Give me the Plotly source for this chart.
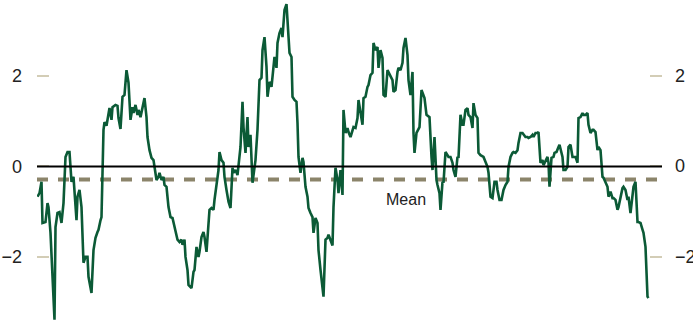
import plotly.graph_objects as go

# Readings of the series (period index, standardised value)
periods = [0, 2, 4, 5, 8, 10, 11, 13, 17, 18, 20, 22, 24, 26, 28, 30, 32, 33, 34, 36,
           39, 40, 42, 44, 46, 48, 50, 51, 54, 56, 58, 60, 61, 63, 64, 66, 67, 69, 71, 72,
           74, 75, 78, 80, 81, 83, 85, 87, 89, 91, 93, 95, 96, 98, 100, 101, 103, 105, 107, 109,
           110, 112, 114, 116, 117, 119, 121, 122, 124, 126, 127, 129, 131, 133, 135, 136, 138, 140, 142, 144,
           145, 147, 148, 150, 151, 154, 156, 157, 159, 161, 162, 164, 166, 167, 169, 171, 172, 174, 176, 177,
           179, 181, 182, 184, 186, 187, 189, 191, 193, 195, 196, 198, 200, 201, 203, 205, 206, 208, 210, 211,
           213, 215, 216, 218, 220, 221, 222, 224, 225, 227, 229, 230, 232, 234, 235, 237, 239, 240, 242, 244,
           245, 247, 249, 250, 252, 254, 255, 257, 259, 260, 261, 263, 265, 266, 268, 270, 271, 273, 275, 276,
           278, 280, 281, 283, 285, 286, 288, 290, 291, 293, 295, 296, 298, 300, 301, 303, 305, 306, 308, 310,
           311, 313, 315, 316, 318, 320, 321, 323, 325, 326, 328, 330, 331, 333, 335, 336, 338, 340, 341, 343,
           345, 346, 348, 350, 351, 353, 355, 356, 358, 360, 361, 363, 365, 366, 368, 370, 371, 373, 375, 376,
           377, 379, 381, 382, 384, 386, 387, 389, 391, 392, 394, 395, 397, 399, 400, 402, 403, 405, 406, 408,
           410, 411, 413, 415, 416, 418, 420, 421, 423, 425, 426, 428, 430, 431, 433, 435, 436, 438, 440, 441,
           443, 446, 450, 451, 453, 455, 457, 459, 460, 462, 464, 466, 468, 470, 471, 473, 475, 476, 478, 480,
           481, 483, 485, 486, 488, 490, 491, 493, 495, 496, 498, 500, 501, 503, 505, 506, 508, 510, 511, 512,
           514, 516, 517, 519, 521, 522, 525, 526, 528, 530, 531, 533, 535, 536, 538, 540, 541, 543, 545, 546,
           548, 550, 551, 553, 555, 556, 558, 560, 561, 563, 565, 566, 568, 570, 571, 573, 575, 576, 578, 580,
           581, 583, 585, 586, 588, 590, 591, 593, 595, 596, 598, 600, 601, 603, 605, 606, 608, 610, 611]
values = [-0.67, -0.59, -0.34, -1.25, -1.23, -0.81, -0.90, -1.47, -3.39, -1.34, -1.03, -1.01, -1.25, -0.81, 0.21, 0.32, 0.32, -0.12, -0.34, -0.23,
          -1.19, -0.67, -0.52, -0.90, -2.13, -2.00, -2.00, -2.44, -2.80, -1.85, -1.58, -1.45, -1.40, -1.19, -1.12, 0.81, 0.98, 0.90, 1.18, 1.29,
          1.03, 1.31, 1.36, 1.34, 1.07, 0.83, 1.54, 1.58, 2.13, 1.85, 1.03, 1.31, 1.18, 1.36, 1.14, 1.25, 1.09, 1.31, 1.51, 1.09,
          0.65, 0.36, 0.19, 0.14, -0.01, -0.30, -0.23, -0.14, -0.30, -0.23, -0.41, -0.45, -0.90, -1.12, -1.14, -1.23, -1.47, -1.62, -1.67, -1.62,
          -1.73, -1.62, -2.00, -2.29, -2.62, -2.69, -2.33, -2.29, -1.78, -2.00, -1.89, -1.56, -1.45, -1.56, -1.89, -1.34, -0.96, -0.92, -0.96, -0.74,
          -0.36, -0.08, 0.32, 0.14, 0.08, -0.23, -0.52, -0.78, -0.92, -0.03, -0.14, -0.08, -0.19, -0.01, 0.43, 1.43, 0.87, 0.30, 1.09, 0.43,
          0.70, -0.36, -0.14, 0.14, 0.81, 1.65, 1.91, 1.96, 2.57, 2.86, 2.20, 1.54, 1.87, 1.76, 1.98, 2.42, 2.18, 2.73, 2.95, 3.06,
          2.86, 3.46, 3.59, 3.30, 2.51, 2.42, 1.54, 1.47, 1.43, 0.96, 0.21, -0.14, 0.19, 0.10, -0.45, -0.67, -0.92, -1.03, -1.12, -1.47,
          -1.14, -1.25, -1.85, -2.29, -2.66, -2.88, -1.62, -1.58, -1.51, -1.62, -1.75, -0.90, -0.03, -0.30, -0.59, -0.08, -0.63, 1.25, 0.74, 0.85,
          0.76, 0.65, 0.81, 0.87, 0.85, 1.07, 1.47, 1.18, 0.92, 1.51, 1.54, 1.76, 1.80, 2.02, 2.07, 2.73, 2.57, 2.64, 2.18, 2.57,
          2.40, 1.58, 1.54, 2.13, 2.09, 2.02, 1.91, 1.65, 1.69, 2.09, 2.18, 2.13, 2.29, 2.62, 2.84, 2.46, 1.91, 1.58, 2.09, 0.74,
          0.30, 0.74, 0.81, 0.87, 1.69, 1.54, 1.51, 1.14, 1.09, 1.09, 0.21, -0.08, 0.65, -0.30, -0.41, -0.59, -0.96, -0.34, -0.36, 0.32,
          0.25, 0.21, 0.21, 0.08, -0.08, -0.23, 0.21, 0.19, 1.14, 0.92, 0.92, 1.25, 1.29, 1.14, 1.09, 0.85, 1.40, 1.14, 1.07, 0.30,
          0.25, 0.21, -0.01, -0.14, -0.67, -0.70, -0.34, -0.34, -0.52, -0.74, -0.74, -0.52, -0.41, -0.34, -0.01, 0.21, 0.30, 0.32, 0.30, 0.36,
          0.52, 0.74, 0.74, 0.70, 0.65, 0.65, 0.63, 0.65, 0.70, 0.65, 0.74, 0.74, 0.76, 0.08, 0.14, 0.03, 0.14, 0.21, 0.08, -0.45,
          0.19, 0.21, 0.30, 0.32, 0.43, 0.48, 0.21, -0.08, -0.08, -0.01, 0.43, 0.48, 0.21, 0.21, 0.21, 0.08, 1.07, 1.09, 1.18, 1.14,
          1.14, 1.18, 0.92, 0.74, 0.81, 0.81, 0.76, 0.36, 0.43, 0.36, -0.23, -0.25, -0.34, -0.45, -0.67, -0.56, -0.70, -0.70, -0.74, -0.96,
          -0.90, -0.67, -0.48, -0.45, -0.52, -0.74, -0.67, -1.03, -0.67, -0.45, -0.34, -1.23, -1.23, -1.25, -1.40, -1.47, -1.78, -2.88, -2.91]

mean_value = -0.29
tick_vals = [-2, 0, 2]
tick_text = ["\u22122", "0", "2"]

font = dict(family="Liberation Sans, Arial, sans-serif", size=18, color="#222222")

fig = go.Figure()
fig.add_trace(go.Scatter(x=periods, y=values, mode="lines",
                         line=dict(color="#0b5a36", width=2.6),
                         hoverinfo="skip", showlegend=False))
# invisible copy so the right-hand axis ticks get drawn
fig.add_trace(go.Scatter(x=periods, y=values, mode="lines", yaxis="y2",
                         opacity=0, hoverinfo="skip", showlegend=False))

# mean line and zero line
fig.add_shape(type="line", xref="paper", x0=0, x1=1, yref="y", y0=mean_value, y1=mean_value,
              line=dict(color="#8b846a", width=4, dash="11px,10px"), layer="below")
fig.add_shape(type="line", xref="paper", x0=0, x1=1, yref="y", y0=0, y1=0,
              line=dict(color="black", width=2), layer="above")
fig.add_annotation(x=368, y=-0.74, text="Mean", showarrow=False,
                   font=dict(family=font["family"], size=16, color="#222222"))

# right-hand labels, left aligned like the original
for v, t in zip(tick_vals, tick_text):
    fig.add_annotation(xref="paper", x=1, y=v, yref="y", text=t, showarrow=False,
                       xanchor="left", xshift=11, font=font)

yaxis_common = dict(
    range=[-3.44, 3.68], tickvals=tick_vals, ticktext=tick_text,
    ticks="inside", ticklen=12, tickwidth=2, tickcolor="#d3cdb6",
    showgrid=False, showline=False, zeroline=False, tickfont=font,
    ticklabelstandoff=14, automargin=False, fixedrange=True,
)

fig.update_layout(
    width=693, height=322,
    margin=dict(l=37, r=31, t=0, b=0),
    paper_bgcolor="white", plot_bgcolor="white",
    xaxis=dict(range=[-0.5, 624.5], visible=False, fixedrange=True),
    yaxis=yaxis_common,
    yaxis2=dict(yaxis_common, overlaying="y", side="right", showticklabels=False),
)

# drop the browser's default page margin so the chart sits at the window corner
fig.write_html("out.html", config={"displayModeBar": False},
               post_script="document.body.style.margin = '0';")
